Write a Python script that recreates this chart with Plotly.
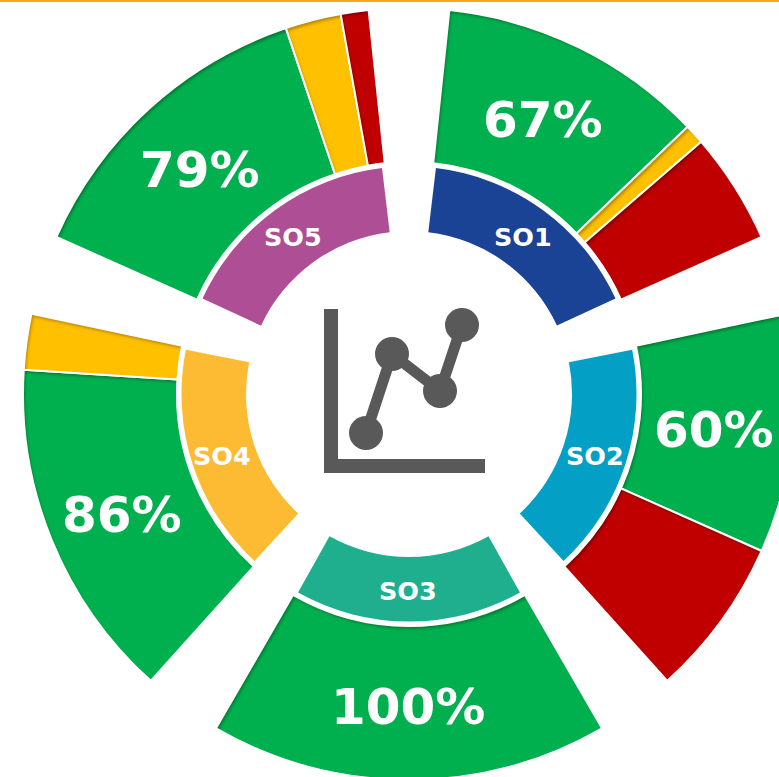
import plotly.graph_objects as go

# ---- data ----
groups = ["SO1", "SO2", "SO3", "SO4", "SO5"]
group_colors = ["#1A4295", "#039FC4", "#1FAF8E", "#FDBA33", "#AE4F96"]
green_vals = [67, 60, 100, 86, 79]
yellow_vals = [5, 0, 0, 14, 14]
red_vals = [28, 40, 0, 0, 7]
pct_labels = ["67%", "60%", "100%", "86%", "79%"]
GAP = 20
GAP_INNER = 23.3
GREEN, YELLOW, RED = "#00B050", "#FFC000", "#C00000"

pct_pos_x = [543, 714, 408, 122, 200]
pct_pos_y = [120, 430, 707, 515, 170]
so_pos_x = [523, 595, 408, 222, 293]
so_pos_y = [237, 456, 591, 456, 237]

icon_x = [366, 392, 440, 462]
icon_y = [433, 354, 391, 325]

W, H = 800, 800
CX, CY = 409, 394
R_OUT, R_OUT_HOLE = 386, 232
R_IN, R_IN_HOLE = 227.5, 163


def domain(r):
    return dict(x=[(CX - r) / W, (CX + r) / W], y=[(H - CY - r) / H, (H - CY + r) / H])


outer_vals, outer_cols, outer_lw, outer_names = [], [], [], []
inner_vals, inner_cols, inner_names = [], [], []
for i, g in enumerate(groups):
    for v, c, n in ((green_vals[i], GREEN, "Green"), (yellow_vals[i], YELLOW, "Yellow"), (red_vals[i], RED, "Red")):
        if v:
            outer_vals.append(v); outer_cols.append(c); outer_lw.append(2); outer_names.append(f"{g} {n}")
    outer_vals.append(GAP); outer_cols.append("rgba(0,0,0,0)"); outer_lw.append(0); outer_names.append(f"gap {i}")
    inner_vals += [100, GAP_INNER]
    inner_cols += [group_colors[i], "rgba(0,0,0,0)"]
    inner_names += [g, f"gap {i}"]

fig = go.Figure()
fig.add_trace(go.Pie(values=outer_vals, labels=outer_names, sort=False, direction="clockwise", rotation=6,
                     hole=R_OUT_HOLE / R_OUT, domain=domain(R_OUT), textinfo="none", showlegend=False,
                     marker=dict(colors=outer_cols, line=dict(color="white", width=outer_lw))))
fig.add_trace(go.Pie(values=inner_vals, labels=inner_names, sort=False, direction="clockwise", rotation=6.8,
                     hole=R_IN_HOLE / R_IN, domain=domain(R_IN), textinfo="none", showlegend=False,
                     marker=dict(colors=inner_cols, line=dict(width=0))))
fig.add_trace(go.Scatter(x=icon_x, y=icon_y, mode="lines+markers", showlegend=False, hoverinfo="skip",
                         line=dict(color="#595959", width=11), marker=dict(color="#595959", size=34)))

shapes = [
    dict(type="rect", xref="x", yref="y", x0=324, x1=338, y0=309, y1=473, fillcolor="#595959", line_width=0),
    dict(type="rect", xref="x", yref="y", x0=324, x1=485, y0=459, y1=473, fillcolor="#595959", line_width=0),
    dict(type="rect", xref="x", yref="y", x0=0, x1=800, y0=0, y1=2, fillcolor="#F7A71C", line_width=0),
]
ann = []
for t, x, y in zip(pct_labels, pct_pos_x, pct_pos_y):
    ann.append(dict(text=f"<b>{t}</b>", x=x, y=y, xref="x", yref="y", showarrow=False,
                    font=dict(family="DejaVu Sans", size=50, color="white")))
for t, x, y in zip(groups, so_pos_x, so_pos_y):
    ann.append(dict(text=f"<b>{t}</b>", x=x, y=y, xref="x", yref="y", showarrow=False,
                    font=dict(family="DejaVu Sans", size=25.5, color="white")))

fig.update_layout(
    width=W, height=H, margin=dict(l=0, r=0, t=0, b=0), paper_bgcolor="white", plot_bgcolor="rgba(0,0,0,0)",
    xaxis=dict(range=[0, W], visible=False, fixedrange=True),
    yaxis=dict(range=[H, 0], visible=False, fixedrange=True),
    shapes=shapes, annotations=ann, showlegend=False,
)

post = """
document.documentElement.style.overflow='hidden';
document.body.style.margin='0';document.body.style.overflow='hidden';
var svg=document.querySelector('.main-svg');
var ns='http://www.w3.org/2000/svg';
var defs=document.createElementNS(ns,'defs');
defs.innerHTML='<filter id="inset" x="-5%" y="-5%" width="110%" height="110%">'+
 '<feComponentTransfer in="SourceAlpha" result="inv"><feFuncA type="table" tableValues="1 0"/></feComponentTransfer>'+
 '<feGaussianBlur in="inv" stdDeviation="1.5"/><feOffset dx="2" dy="2.5" result="off"/>'+
 '<feFlood flood-color="#000" flood-opacity="0.55"/><feComposite in2="off" operator="in"/>'+
 '<feComposite in2="SourceAlpha" operator="in" result="sh"/>'+
 '<feMerge><feMergeNode in="SourceGraphic"/><feMergeNode in="sh"/></feMerge></filter>';
svg.appendChild(defs);
var traces=document.querySelectorAll('.pielayer .trace');
if(traces.length){traces[0].querySelectorAll('.slice path.surface').forEach(function(p){
  var sw=parseFloat(p.style.strokeWidth)||0;
  if(sw>0){
    var c=p.cloneNode(true);
    c.style.fill='none';
    p.style.stroke='none';
    p.style.filter='url(#inset)';
    p.parentNode.appendChild(c);
  }
});}
"""
fig.write_html("out.html", post_script=post, config={"displayModeBar": False})
